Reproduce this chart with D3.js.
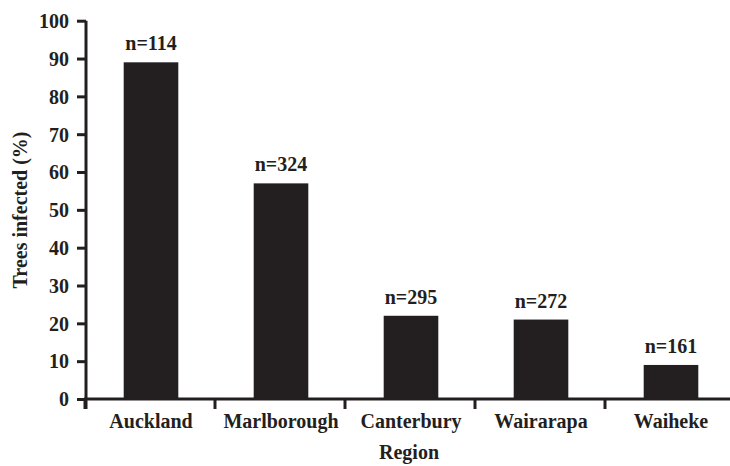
<!DOCTYPE html>
<html><head><meta charset="utf-8">
<script src="https://cdn.jsdelivr.net/npm/d3@7"></script>
<style>
body{margin:0;background:#fff;}
text{font-family:"Liberation Serif","Times New Roman",serif;font-weight:bold;fill:#231f20;}
</style></head>
<body><svg id="c" width="730" height="466"></svg>
<script>
const regions = ["Auckland","Marlborough","Canterbury","Wairarapa","Waiheke"];
const infected = [89, 57, 22, 21, 9];
const sampleSizes = ["n=114","n=324","n=295","n=272","n=161"];
const yTicks = [0,10,20,30,40,50,60,70,80,90,100];

const svg = d3.select("#c");
const m = {left:86, top:20.7, bottom:399};
const bandW = 130;
const fs = 20;
const x = d3.scaleBand().domain(regions).range([m.left, m.left + bandW*regions.length]).paddingInner(0.58).paddingOuter(0.29);
const y = d3.scaleLinear().domain([0,100]).range([m.bottom, m.top]);
const col = "#231f20";

// bars
svg.selectAll("rect.bar").data(regions).enter().append("rect")
  .attr("x", d => x(d)).attr("width", x.bandwidth())
  .attr("y", (d,i) => y(infected[i])).attr("height", (d,i) => y(0) - y(infected[i]))
  .attr("fill", col);

// labels
svg.selectAll("text.n").data(regions).enter().append("text")
  .attr("x", d => x(d) + x.bandwidth()/2).attr("y", (d,i) => y(infected[i]) - 12)
  .attr("text-anchor","middle").attr("font-size", fs).text((d,i) => sampleSizes[i]);

// y axis
const ya = svg.append("g").attr("transform", `translate(${m.left},0)`)
  .call(d3.axisLeft(y).tickValues(yTicks).tickSize(9).tickPadding(8));
ya.select(".domain").attr("stroke", col).attr("stroke-width", 3).attr("d", `M0,${m.bottom+10}V${m.top}`);
ya.selectAll(".tick line").attr("stroke", col).attr("stroke-width", 3);
ya.selectAll(".tick text").attr("font-size", fs).attr("font-family",'"Liberation Serif",serif').attr("font-weight","bold").attr("fill", col).attr("dy","0.34em");

// x axis
const xa = svg.append("g").attr("transform", `translate(0,${m.bottom})`);
const boundaries = d3.range(regions.length + 1).map(i => m.left - 1 + i*bandW);
xa.append("line").attr("x1", m.left - 2).attr("x2", 740).attr("y1", 0).attr("y2", 0).attr("stroke", col).attr("stroke-width", 3);
xa.selectAll("line.t").data(boundaries).enter().append("line")
  .attr("x1", d => d).attr("x2", d => d).attr("y1", 0).attr("y2", 10)
  .attr("stroke", col).attr("stroke-width", 3);
xa.selectAll("text.cat").data(regions).enter().append("text")
  .attr("x", d => x(d) + x.bandwidth()/2).attr("y", 29)
  .attr("text-anchor","middle").attr("font-size", fs).text(d => d);

// axis titles
svg.append("text").attr("x", 409).attr("y", 459).attr("text-anchor","middle").attr("font-size", fs).text("Region");
svg.append("text").attr("transform", "translate(27,210) rotate(-90)").attr("text-anchor","middle").attr("font-size", fs).text("Trees infected (%)");
</script></body></html>
